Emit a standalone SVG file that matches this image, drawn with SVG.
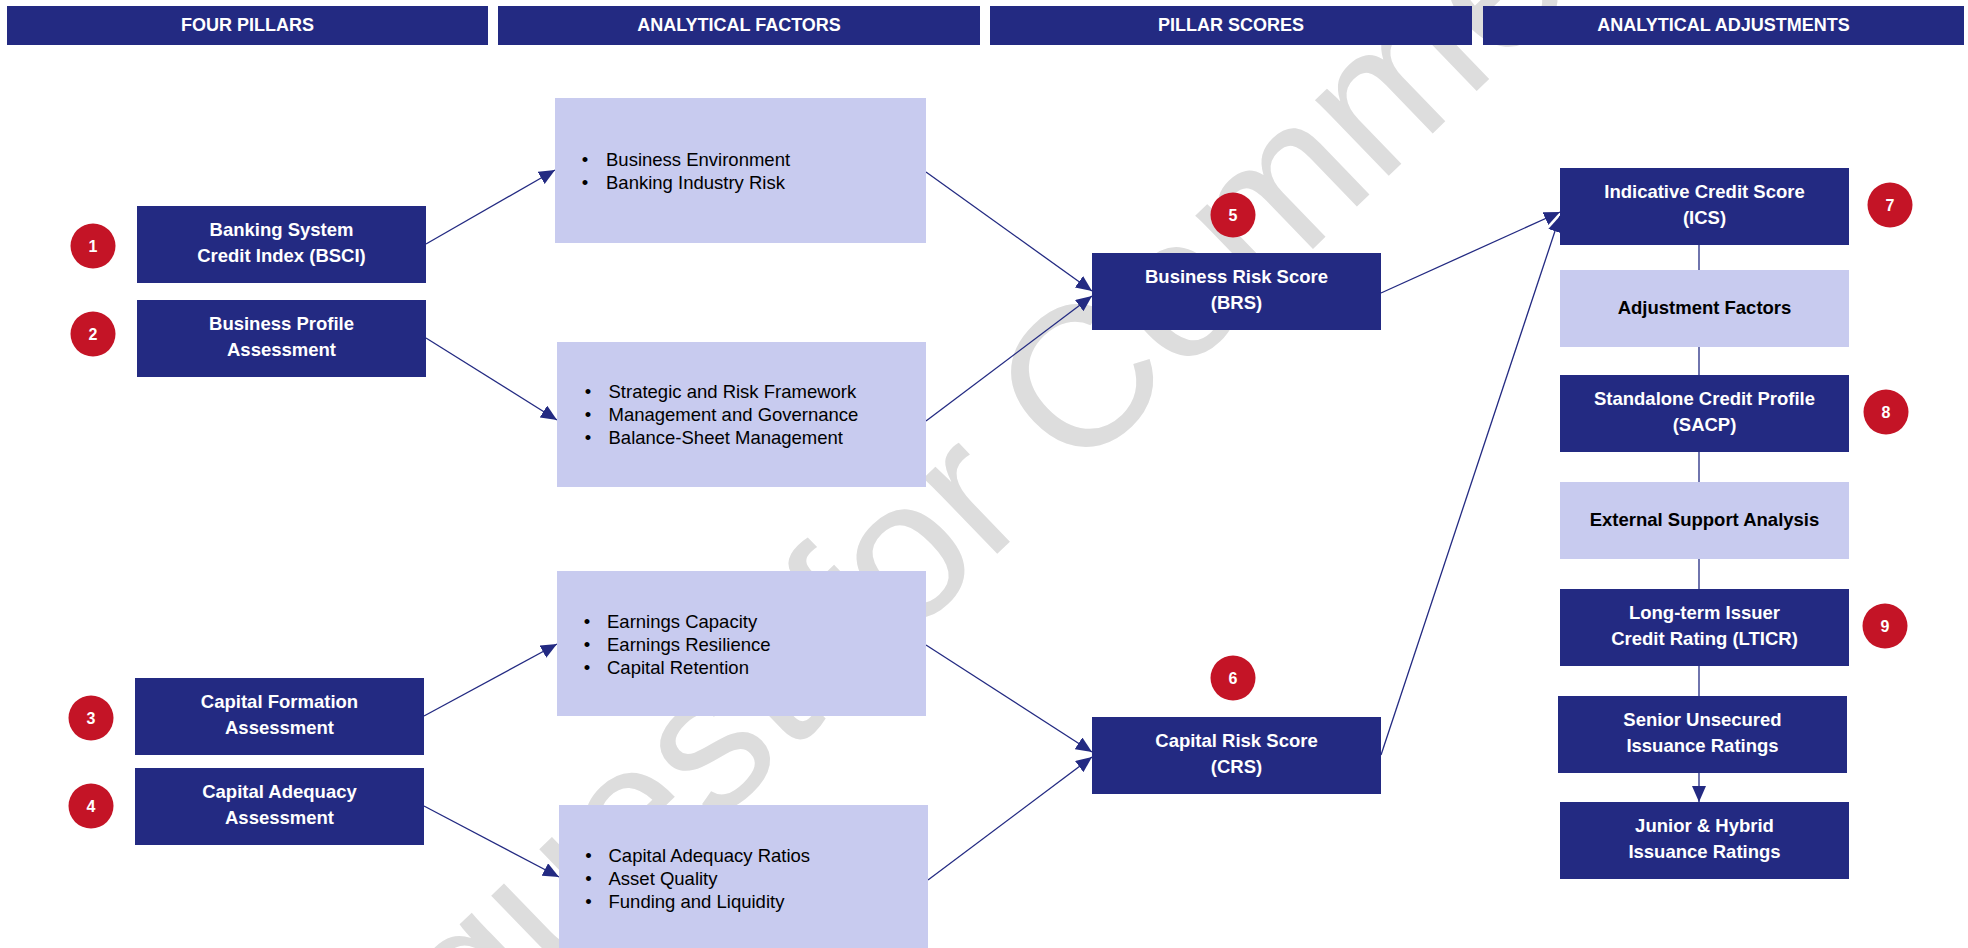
<svg xmlns="http://www.w3.org/2000/svg" width="1968" height="948" viewBox="0 0 1968 948">
<defs>
<style>
.hdr{fill:#232A82}
.ht{font-family:"Liberation Sans",Arial,sans-serif;font-size:18px;font-weight:bold;fill:#fff;text-anchor:middle}
.dk{fill:#232A82}
.lt{fill:#C8CBEF}
.dt{font-family:"Liberation Sans",Arial,sans-serif;font-size:18.5px;font-weight:bold;fill:#fff;text-anchor:middle}
.bt{font-family:"Liberation Sans",Arial,sans-serif;font-size:18.5px;font-weight:bold;fill:#000;text-anchor:middle}
.li{font-family:"Liberation Sans",Arial,sans-serif;font-size:18.5px;fill:#000}
.bu{font-family:"Liberation Sans",Arial,sans-serif;font-size:18.5px;fill:#000;text-anchor:middle}
.bd{fill:#C41426}
.bn{font-family:"Liberation Sans",Arial,sans-serif;font-size:16px;font-weight:bold;fill:#fff;text-anchor:middle}
.cn{stroke:#232A82;stroke-width:1.3;fill:none}
.wm{font-family:"Liberation Sans",Arial,sans-serif;font-size:200px;fill:#DDDDDD;text-anchor:middle}
</style>
<marker id="ah" markerUnits="userSpaceOnUse" markerWidth="16" markerHeight="14" refX="16" refY="7" orient="auto">
<path d="M0,0 L16,7 L0,14 z" fill="#232A82"/>
</marker>
</defs>
<rect width="1968" height="948" fill="#fff"/>
<g id="watermark">
<text class="wm" x="995" y="556" transform="rotate(-44 995 556)">Request for Comment</text>
</g>
<g id="headers">
<rect class="hdr" x="7" y="6" width="481" height="39"/>
<text class="ht" x="247.5" y="31">FOUR PILLARS</text>
<rect class="hdr" x="498" y="6" width="482" height="39"/>
<text class="ht" x="739" y="31">ANALYTICAL FACTORS</text>
<rect class="hdr" x="990" y="6" width="482" height="39"/>
<text class="ht" x="1231" y="31">PILLAR SCORES</text>
<rect class="hdr" x="1483" y="6" width="481" height="39"/>
<text class="ht" x="1723.5" y="31">ANALYTICAL ADJUSTMENTS</text>
</g>
<g id="connectors">
<line class="cn" x1="426" y1="244" x2="555" y2="170" marker-end="url(#ah)"/>
<line class="cn" x1="426" y1="338" x2="557" y2="420" marker-end="url(#ah)"/>
<line class="cn" x1="424" y1="716" x2="557" y2="644" marker-end="url(#ah)"/>
<line class="cn" x1="424" y1="806" x2="559" y2="877" marker-end="url(#ah)"/>
<line class="cn" x1="926" y1="172" x2="1092" y2="291" marker-end="url(#ah)"/>
<line class="cn" x1="926" y1="421" x2="1092" y2="296" marker-end="url(#ah)"/>
<line class="cn" x1="926" y1="645" x2="1092" y2="752" marker-end="url(#ah)"/>
<line class="cn" x1="928" y1="880" x2="1092" y2="757" marker-end="url(#ah)"/>
<line class="cn" x1="1381" y1="293" x2="1560" y2="212" marker-end="url(#ah)"/>
<line class="cn" x1="1381" y1="755" x2="1560" y2="216" marker-end="url(#ah)"/>
<line class="cn" x1="1699" y1="245" x2="1699" y2="270"/>
<line class="cn" x1="1699" y1="347" x2="1699" y2="375"/>
<line class="cn" x1="1699" y1="452" x2="1699" y2="482"/>
<line class="cn" x1="1699" y1="559" x2="1699" y2="589"/>
<line class="cn" x1="1699" y1="666" x2="1699" y2="696"/>
<line class="cn" x1="1699" y1="773" x2="1699" y2="802" marker-end="url(#ah)"/>
</g>
<g id="n-bsci">
<rect class="dk" x="137" y="206" width="289" height="77"/>
<text class="dt" x="281.5" y="236">Banking System</text>
<text class="dt" x="281.5" y="262">Credit Index (BSCI)</text>
</g>
<g id="n-bpa">
<rect class="dk" x="137" y="300" width="289" height="77"/>
<text class="dt" x="281.5" y="330">Business Profile</text>
<text class="dt" x="281.5" y="356">Assessment</text>
</g>
<g id="n-cfa">
<rect class="dk" x="135" y="678" width="289" height="77"/>
<text class="dt" x="279.5" y="708">Capital Formation</text>
<text class="dt" x="279.5" y="734">Assessment</text>
</g>
<g id="n-caa">
<rect class="dk" x="135" y="768" width="289" height="77"/>
<text class="dt" x="279.5" y="798">Capital Adequacy</text>
<text class="dt" x="279.5" y="824">Assessment</text>
</g>
<g id="b1"><circle class="bd" cx="93" cy="246" r="22.5"/><text class="bn" x="93" y="252">1</text></g>
<g id="b2"><circle class="bd" cx="93" cy="334" r="22.5"/><text class="bn" x="93" y="340">2</text></g>
<g id="b3"><circle class="bd" cx="91" cy="718" r="22.5"/><text class="bn" x="91" y="724">3</text></g>
<g id="b4"><circle class="bd" cx="91" cy="806" r="22.5"/><text class="bn" x="91" y="812">4</text></g>
<g id="f-business">
<rect class="lt" x="555" y="98" width="371" height="145"/>
<text class="bu" x="585" y="166">•</text><text class="li" x="606" y="166">Business Environment</text>
<text class="bu" x="585" y="189">•</text><text class="li" x="606" y="189">Banking Industry Risk</text>
</g>
<g id="f-profile">
<rect class="lt" x="557" y="342" width="369" height="145"/>
<text class="bu" x="588" y="398">•</text><text class="li" x="608.5" y="398">Strategic and Risk Framework</text>
<text class="bu" x="588" y="421">•</text><text class="li" x="608.5" y="421">Management and Governance</text>
<text class="bu" x="588" y="444">•</text><text class="li" x="608.5" y="444">Balance-Sheet Management</text>
</g>
<g id="f-earnings">
<rect class="lt" x="557" y="571" width="369" height="145"/>
<text class="bu" x="587" y="628">•</text><text class="li" x="607" y="628">Earnings Capacity</text>
<text class="bu" x="587" y="651">•</text><text class="li" x="607" y="651">Earnings Resilience</text>
<text class="bu" x="587" y="674">•</text><text class="li" x="607" y="674">Capital Retention</text>
</g>
<g id="f-capital">
<rect class="lt" x="559" y="805" width="369" height="145"/>
<text class="bu" x="588.5" y="862">•</text><text class="li" x="608.5" y="862">Capital Adequacy Ratios</text>
<text class="bu" x="588.5" y="885">•</text><text class="li" x="608.5" y="885">Asset Quality</text>
<text class="bu" x="588.5" y="908">•</text><text class="li" x="608.5" y="908">Funding and Liquidity</text>
</g>
<g id="n-brs">
<rect class="dk" x="1092" y="253" width="289" height="77"/>
<text class="dt" x="1236.5" y="283">Business Risk Score</text>
<text class="dt" x="1236.5" y="309">(BRS)</text>
</g>
<g id="n-crs">
<rect class="dk" x="1092" y="717" width="289" height="77"/>
<text class="dt" x="1236.5" y="747">Capital Risk Score</text>
<text class="dt" x="1236.5" y="773">(CRS)</text>
</g>
<g id="b5"><circle class="bd" cx="1233" cy="215" r="22.5"/><text class="bn" x="1233" y="221">5</text></g>
<g id="b6"><circle class="bd" cx="1233" cy="678" r="22.5"/><text class="bn" x="1233" y="684">6</text></g>
<g id="n-ics">
<rect class="dk" x="1560" y="168" width="289" height="77"/>
<text class="dt" x="1704.5" y="198">Indicative Credit Score</text>
<text class="dt" x="1704.5" y="224">(ICS)</text>
</g>
<g id="n-adj">
<rect class="lt" x="1560" y="270" width="289" height="77"/>
<text class="bt" x="1704.5" y="314">Adjustment Factors</text>
</g>
<g id="n-sacp">
<rect class="dk" x="1560" y="375" width="289" height="77"/>
<text class="dt" x="1704.5" y="405">Standalone Credit Profile</text>
<text class="dt" x="1704.5" y="431">(SACP)</text>
</g>
<g id="n-esa">
<rect class="lt" x="1560" y="482" width="289" height="77"/>
<text class="bt" x="1704.5" y="526">External Support Analysis</text>
</g>
<g id="n-lticr">
<rect class="dk" x="1560" y="589" width="289" height="77"/>
<text class="dt" x="1704.5" y="619">Long-term Issuer</text>
<text class="dt" x="1704.5" y="645">Credit Rating (LTICR)</text>
</g>
<g id="n-senior">
<rect class="dk" x="1558" y="696" width="289" height="77"/>
<text class="dt" x="1702.5" y="726">Senior Unsecured</text>
<text class="dt" x="1702.5" y="752">Issuance Ratings</text>
</g>
<g id="n-junior">
<rect class="dk" x="1560" y="802" width="289" height="77"/>
<text class="dt" x="1704.5" y="832">Junior &amp; Hybrid</text>
<text class="dt" x="1704.5" y="858">Issuance Ratings</text>
</g>
<g id="b7"><circle class="bd" cx="1890" cy="205" r="22.5"/><text class="bn" x="1890" y="211">7</text></g>
<g id="b8"><circle class="bd" cx="1886" cy="412" r="22.5"/><text class="bn" x="1886" y="418">8</text></g>
<g id="b9"><circle class="bd" cx="1885" cy="626" r="22.5"/><text class="bn" x="1885" y="632">9</text></g>
</svg>
